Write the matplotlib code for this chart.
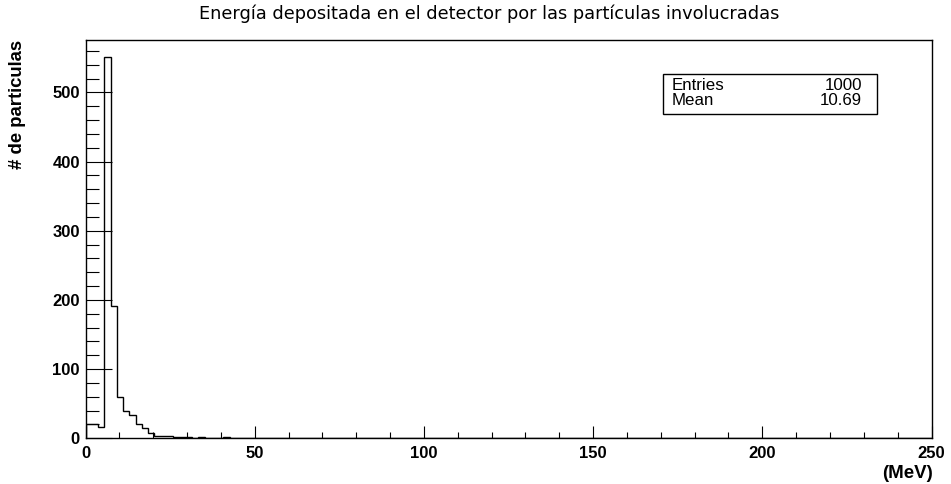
import matplotlib
matplotlib.use("Agg")
import matplotlib.pyplot as plt
import numpy as np

# histogram: 135 bins from 0 to 250 MeV
x_min = 0
x_max = 250
n_bins = 135
counts = [20, 20, 17, 551, 191, 59, 39, 33, 21, 15, 7, 3,
          4, 3, 2, 2, 2, 1, 2, 0, 0, 0, 2, 1, 0, 1, 0, 0, 1, 0,
          0, 0, 0, 0, 0, 1, 0, 1, 0, 0, 0, 0, 0, 0, 0, 0, 0, 0,
          0, 0, 0, 1]
counts = counts + [0] * (n_bins - len(counts))
stats_labels = ["Entries", "Mean"]
stats_values = ["1000", "10.69"]

title = "Energía depositada en el detector por las partículas involucradas"
xlabel = "(MeV)"
ylabel = "# de particulas"

W, H = 951, 484
fig = plt.figure(figsize=(W / 100, H / 100), dpi=100)
ax = fig.add_axes([85.5 / W, 1 - 438.3 / H, (931.5 - 85.5) / W, (438.3 - 40) / H])

edges = np.linspace(x_min, x_max, n_bins + 1)
ax.stairs(counts, edges, baseline=0, color="black", lw=1.0)

ax.set_xlim(x_min, x_max)
ax.set_ylim(0, max(counts) * 1.045)

for s in ax.spines.values():
    s.set_linewidth(1.0)
    s.set_color("black")

ax.set_xticks([0, 50, 100, 150, 200, 250])
ax.set_xticks(np.arange(0, 251, 10), minor=True)
ax.set_yticks([0, 100, 200, 300, 400, 500])
ax.set_yticks(np.arange(0, 561, 20), minor=True)

ax.tick_params(axis="x", which="major", direction="in", length=8.3, width=0.8,
               pad=5.5, top=False)
ax.tick_params(axis="x", which="minor", direction="in", length=4.2, width=0.8, top=False)
ax.tick_params(axis="y", which="major", direction="in", length=18.5, width=0.8,
               pad=4, right=False)
ax.tick_params(axis="y", which="minor", direction="in", length=9.3, width=0.8, right=False)

for lab in ax.get_xticklabels() + ax.get_yticklabels():
    lab.set_fontfamily("Liberation Sans")
    lab.set_fontweight("bold")
    lab.set_fontsize(12)

fig.text(489 / W, 1 - 14 / H, title, ha="center", va="center",
         fontfamily="DejaVu Sans", fontsize=12.8)
fig.text(18 / W, 1 - 40 / H, ylabel, rotation=90, ha="center", va="top",
         fontfamily="Liberation Sans", fontweight="bold", fontsize=13.3)
fig.text(933 / W, 1 - 474 / H, xlabel, ha="right", va="center",
         fontfamily="Liberation Sans", fontweight="bold", fontsize=13.5)

# stats box
bx0, by0, bx1, by1 = 662.5, 74, 876.5, 114.3
fig.patches.append(plt.Rectangle((bx0 / W, 1 - by1 / H), (bx1 - bx0) / W, (by1 - by0) / H,
                                 transform=fig.transFigure, fill=False,
                                 edgecolor="black", lw=1.0))
row_y = [86, 100.5]
for lab, val, ry in zip(stats_labels, stats_values, row_y):
    fig.text(672 / W, 1 - ry / H, lab, ha="left", va="center",
             fontfamily="Liberation Sans", fontsize=12.2)
    fig.text(862 / W, 1 - ry / H, val, ha="right", va="center",
             fontfamily="Liberation Sans", fontsize=12.2)

fig.savefig("out.png", dpi=100)
